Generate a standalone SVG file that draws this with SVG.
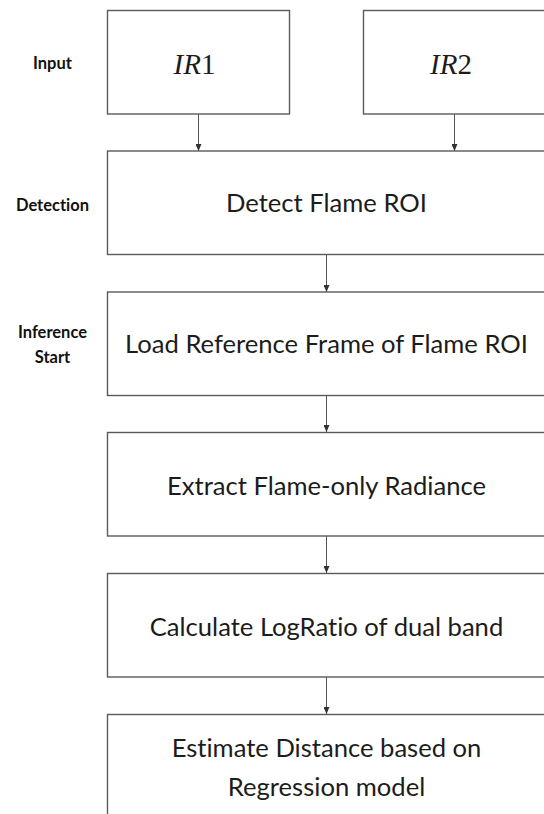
<svg xmlns="http://www.w3.org/2000/svg" width="544" height="814" viewBox="0 0 544 814">
  <defs>
    <marker id="arrow" viewBox="0 0 7 6" refX="7" refY="3" markerWidth="7" markerHeight="6" markerUnits="userSpaceOnUse" orient="auto">
      <path d="M0,0 L7,3 L0,6 Z" fill="#333"/>
    </marker>
    <style>
      .box { fill: #fff; stroke: #5a5a5a; stroke-width: 1.4; }
      .step { font-family: Lato, "Open Sans", sans-serif; font-size: 25.6px; fill: #1c1c1c; text-anchor: middle; font-variant-ligatures: none; }
      .stage { font-family: Lato, "Open Sans", sans-serif; font-weight: bold; font-size: 16.5px; fill: #111; text-anchor: middle; font-variant-ligatures: none; }
      .math { font-family: "Liberation Serif", "DejaVu Serif", serif; font-size: 29px; fill: #1c1c1c; text-anchor: middle; }
      .link { stroke: #555; stroke-width: 1; fill: none; }
    </style>
  </defs>
  <rect width="544" height="814" fill="#fff"/>

  <!-- stage labels on the left -->
  <g id="stage-labels">
    <text class="stage" x="52.5" y="69">Input</text>
    <text class="stage" x="52.5" y="210.5">Detection</text>
    <text class="stage" x="52.5" y="337.5">Inference</text>
    <text class="stage" x="52.5" y="363">Start</text>
  </g>

  <!-- connectors -->
  <g id="connectors">
    <line class="link" x1="198.5" y1="114" x2="198.5" y2="151" marker-end="url(#arrow)"/>
    <line class="link" x1="454.5" y1="114" x2="454.5" y2="151" marker-end="url(#arrow)"/>
    <line class="link" x1="326.5" y1="254" x2="326.5" y2="292" marker-end="url(#arrow)"/>
    <line class="link" x1="326.5" y1="395" x2="326.5" y2="432" marker-end="url(#arrow)"/>
    <line class="link" x1="326.5" y1="536" x2="326.5" y2="573" marker-end="url(#arrow)"/>
    <line class="link" x1="326.5" y1="677" x2="326.5" y2="714" marker-end="url(#arrow)"/>
  </g>

  <g id="ir1">
    <rect class="box" x="107.5" y="10.5" width="182" height="103.5"/>
    <text class="math" x="194.5" y="73.5"><tspan font-style="italic">IR</tspan>1</text>
  </g>

  <g id="ir2">
    <rect class="box" x="363.5" y="10.5" width="182" height="103.5"/>
    <text class="math" x="451" y="73.5"><tspan font-style="italic">IR</tspan>2</text>
  </g>

  <g id="detect">
    <rect class="box" x="107.5" y="151" width="438" height="103.5"/>
    <text class="step" x="326.5" y="212.3">Detect Flame ROI</text>
  </g>

  <g id="load-reference">
    <rect class="box" x="107.5" y="292" width="438" height="103.5"/>
    <text class="step" x="326.5" y="353.3">Load Reference Frame of Flame ROI</text>
  </g>

  <g id="extract">
    <rect class="box" x="107.5" y="432.5" width="438" height="103.5"/>
    <text class="step" x="326.5" y="495.3">Extract Flame-only Radiance</text>
  </g>

  <g id="log-ratio">
    <rect class="box" x="107.5" y="573.5" width="438" height="103.5"/>
    <text class="step" x="326.5" y="635.7">Calculate LogRatio of dual band</text>
  </g>

  <g id="estimate">
    <rect class="box" x="107.5" y="714.5" width="438" height="103.5"/>
    <text class="step" x="326.5" y="757.3">Estimate Distance based on</text>
    <text class="step" x="326.5" y="795.7">Regression model</text>
  </g>
</svg>
